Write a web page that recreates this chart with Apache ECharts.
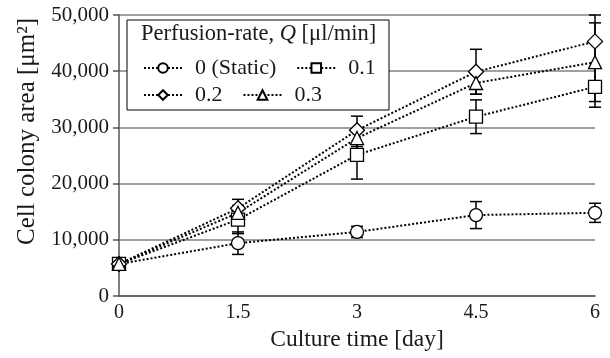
<!DOCTYPE html>
<html><head><meta charset="utf-8">
<script src="https://cdn.jsdelivr.net/npm/echarts@6/dist/echarts.min.js"></script>
<style>html,body{margin:0;padding:0;background:#fff}#c{width:610px;height:358px}</style>
</head><body><div id="c"></div>
<script>
var days = [0, 1.5, 3, 4.5, 6];
var yTicks = [0, 10000, 20000, 30000, 40000, 50000];
var seriesNames = ['0 (Static)', '0.1', '0.2', '0.3'];
var symbols = ['circle', 'rect', 'diamond', 'triangle'];
var vStatic = [5700, 9400, 11400, 14400, 14800];
var eStatic = [0, 2000, 1000, 2400, 1700];
var v01 = [5700, 13600, 25100, 31900, 37200];
var e01 = [0, 2500, 4300, 3000, 3600];
var v02 = [5700, 15600, 29500, 39900, 45300];
var e02 = [0, 1600, 2500, 4000, 4700];
var v03 = [5700, 14800, 28100, 37900, 41600];
var e03 = [0, 1000, 1500, 2000, 7000];

var values = [vStatic, v01, v02, v03];
var errs = [eStatic, e01, e02, e03];
var FONT = 'Liberation Serif';
var TXT = '#1a1a1a';

var series = [];
values.forEach(function (vals, i) {
  var errData = days.map(function (d, k) { return [d, vals[k] - errs[i][k], vals[k] + errs[i][k]]; });
  series.push({
    type: 'custom', z: 2, silent: true,
    data: errData,
    renderItem: function (params, api) {
      var x = api.value(0), lo = api.value(1), hi = api.value(2);
      if (hi - lo <= 0) return null;
      var p1 = api.coord([x, lo]), p2 = api.coord([x, hi]);
      var w = 6;
      var st = { stroke: '#000', lineWidth: 1.5 };
      return { type: 'group', children: [
        { type: 'line', shape: { x1: p1[0], y1: p1[1], x2: p2[0], y2: p2[1] }, style: st },
        { type: 'line', shape: { x1: p1[0] - w, y1: p1[1], x2: p1[0] + w, y2: p1[1] }, style: st },
        { type: 'line', shape: { x1: p2[0] - w, y1: p2[1], x2: p2[0] + w, y2: p2[1] }, style: st }
      ]};
    }
  });
  series.push({
    type: 'line', name: seriesNames[i], z: 3,
    data: days.map(function (d, k) { return [d, vals[k]]; }),
    symbol: symbols[i], symbolSize: symbols[i] === 'diamond' ? 15 : 13,
    showAllSymbol: true,
    lineStyle: { color: '#000', width: 2, type: [2, 2] },
    itemStyle: { color: '#fff', borderColor: '#000', borderWidth: 1.3 },
    emphasis: { disabled: true },
    animation: false
  });
});

function mkLegend(names, top) {
  return {
    data: names, left: 138, top: top, z: 5, orient: 'horizontal',
    itemWidth: 38, itemHeight: 12, itemGap: 20,
    selectedMode: false,
    textStyle: { fontFamily: FONT, fontSize: 22, color: TXT, width: 96, padding: [0, 0, 0, 8] },
    inactiveColor: '#000'
  };
}

var chart = echarts.init(document.getElementById('c'));
chart.setOption({
  animation: false,
  backgroundColor: '#fff',
  grid: { left: 119, right: 15, top: 15, bottom: 62 },
  xAxis: {
    type: 'value', min: 0, max: 6, interval: 1.5,
    name: 'Culture time [day]', nameLocation: 'middle', nameGap: 32,
    nameTextStyle: { fontFamily: FONT, fontSize: 23.5, color: TXT },
    axisLine: { lineStyle: { color: '#555', width: 1.5 } },
    axisTick: { show: false },
    axisLabel: { fontFamily: FONT, fontSize: 20, color: TXT, margin: 7 },
    splitLine: { show: false }
  },
  yAxis: {
    type: 'value', min: 0, max: 50000, interval: 10000,
    name: 'Cell colony area [μm²]', nameLocation: 'middle', nameGap: 79,
    nameTextStyle: { fontFamily: FONT, fontSize: 25, color: TXT, padding: [0, 0, 0, 48] },
    axisLine: { show: true, lineStyle: { color: '#555', width: 1.5 } },
    axisTick: { show: true, inside: false, length: 6, lineStyle: { color: '#555', width: 1.5 } },
    axisLabel: { fontFamily: FONT, fontSize: 21, color: TXT, margin: 10,
      formatter: function (v) { return yTicks.indexOf(v) >= 0 ? v.toLocaleString('en-US') : ''; } },
    splitLine: { show: true, lineStyle: { color: '#808080', width: 1.5 } }
  },
  legend: [mkLegend(['0 (Static)', '0.1'], 52), mkLegend(['0.2', '0.3'], 79)],
  graphic: [
    { type: 'rect', z: 4, shape: { x: 127, y: 20, width: 262, height: 90 },
      style: { fill: '#fff', stroke: '#000', lineWidth: 1 } },
    { type: 'text', z: 5, left: 141, top: 23,
      style: { text: '{a|Perfusion-rate, }{q|Q}{a| [μl/min]}',
        rich: {
          a: { fontFamily: FONT, fontSize: 22.5, fill: TXT },
          q: { fontFamily: FONT, fontSize: 22.5, fill: TXT, fontStyle: 'italic' }
        } } }
  ],
  series: series
});
</script></body></html>
